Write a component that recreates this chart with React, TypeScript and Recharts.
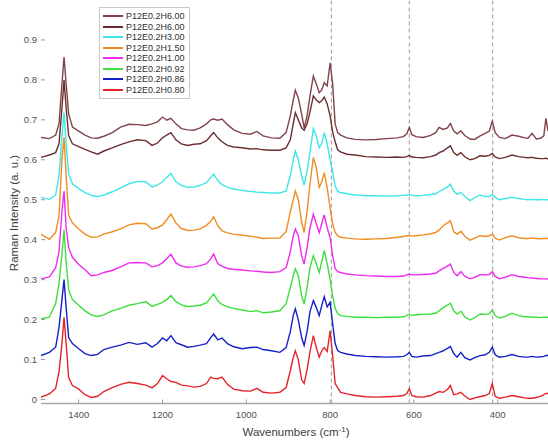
import { LineChart, Line, XAxis, YAxis, ReferenceLine } from "recharts";

// wavenumber grid (cm-1), shared by all spectra
const wavenumbers = [
    1490, 1470, 1455, 1447, 1440, 1435, 1430, 1424, 1415, 1400,
    1385, 1370, 1355, 1340, 1320, 1300, 1280, 1260, 1240, 1225,
    1212, 1200, 1190, 1180, 1168, 1155, 1140, 1125, 1110, 1095,
    1085, 1078, 1068, 1058, 1045, 1030, 1010, 990, 975, 960,
    940, 920, 905, 895, 888, 883, 876, 868, 862, 855,
    848, 840, 833, 826, 820, 814, 807, 800, 794, 788,
    782, 775, 760, 740, 715, 690, 665, 640, 625, 617,
    611, 605, 595, 578, 560, 548, 540, 530, 520, 513,
    505, 497, 488, 478, 466, 455, 442, 430, 420, 413,
    406, 396, 382, 366, 350, 336, 328, 318, 308, 298,
    290, 285, 280,
];

const h600a = [
    0.656, 0.653, 0.662, 0.69, 0.79, 0.857, 0.79, 0.715, 0.682, 0.672,
    0.662, 0.655, 0.654, 0.659, 0.668, 0.682, 0.689, 0.688, 0.686, 0.69,
    0.695, 0.707, 0.699, 0.704, 0.69, 0.678, 0.675, 0.674, 0.68, 0.69,
    0.7, 0.702, 0.699, 0.702, 0.688, 0.675, 0.666, 0.664, 0.671, 0.66,
    0.655, 0.654, 0.668, 0.71, 0.75, 0.774, 0.755, 0.715, 0.68, 0.71,
    0.76, 0.81, 0.79, 0.768, 0.775, 0.793, 0.785, 0.843, 0.79, 0.69,
    0.668, 0.662, 0.655, 0.651, 0.65, 0.651, 0.653, 0.655, 0.658, 0.665,
    0.681, 0.663, 0.658, 0.656, 0.661, 0.668, 0.681, 0.676, 0.68, 0.691,
    0.672, 0.665, 0.672, 0.66, 0.652, 0.651, 0.66, 0.666, 0.672, 0.697,
    0.668, 0.656, 0.653, 0.662, 0.659, 0.655, 0.654, 0.666, 0.652, 0.654,
    0.66, 0.704, 0.672,
];

const h600b = [
    0.606, 0.612, 0.618, 0.64, 0.73, 0.8, 0.73, 0.66, 0.64, 0.633,
    0.626, 0.62, 0.614, 0.622, 0.63, 0.638, 0.645, 0.65, 0.648, 0.636,
    0.642, 0.655, 0.662, 0.668, 0.65, 0.64, 0.636, 0.639, 0.64, 0.648,
    0.66, 0.668, 0.655, 0.645, 0.636, 0.632, 0.63, 0.627, 0.628, 0.625,
    0.624, 0.624, 0.63, 0.65, 0.69, 0.718, 0.7, 0.68, 0.674, 0.69,
    0.72, 0.76, 0.75, 0.743, 0.748, 0.757, 0.74, 0.71, 0.67, 0.645,
    0.625, 0.62, 0.614, 0.612, 0.608, 0.607, 0.606, 0.607, 0.606, 0.608,
    0.611, 0.607, 0.606, 0.605, 0.608, 0.612, 0.618, 0.622, 0.63, 0.635,
    0.618, 0.611, 0.618, 0.607, 0.6, 0.603, 0.61, 0.609, 0.611, 0.616,
    0.607, 0.603, 0.606, 0.612, 0.608, 0.606, 0.605, 0.606, 0.604, 0.603,
    0.603, 0.604, 0.602,
];

const h300 = [
    0.506, 0.501, 0.512, 0.56, 0.66, 0.718, 0.64, 0.565, 0.54, 0.528,
    0.518, 0.511, 0.508, 0.512, 0.52, 0.53, 0.54, 0.546, 0.545, 0.532,
    0.537, 0.545, 0.556, 0.566, 0.545, 0.536, 0.531, 0.532, 0.536, 0.543,
    0.556, 0.564, 0.548, 0.538, 0.531, 0.527, 0.523, 0.521, 0.519, 0.518,
    0.517, 0.517, 0.522, 0.56, 0.6, 0.622, 0.6, 0.56, 0.537, 0.57,
    0.62, 0.678, 0.66, 0.63, 0.64, 0.668, 0.64, 0.6, 0.57, 0.535,
    0.521, 0.518, 0.515, 0.512, 0.51, 0.51, 0.509, 0.51, 0.511, 0.512,
    0.513, 0.511, 0.51, 0.511, 0.513, 0.515, 0.52, 0.526, 0.532, 0.539,
    0.522, 0.514, 0.518, 0.508, 0.498, 0.505, 0.512, 0.508, 0.508, 0.514,
    0.506, 0.5, 0.503, 0.506, 0.503, 0.501, 0.5, 0.501, 0.5, 0.5,
    0.501, 0.5, 0.5,
];

const h150 = [
    0.414, 0.401, 0.418, 0.46, 0.6, 0.656, 0.56, 0.462, 0.442, 0.427,
    0.414, 0.406, 0.407, 0.414, 0.42, 0.427, 0.437, 0.441, 0.44, 0.427,
    0.43, 0.437, 0.45, 0.464, 0.442, 0.428, 0.423, 0.424, 0.427, 0.436,
    0.446, 0.457, 0.435, 0.422, 0.417, 0.414, 0.411, 0.409, 0.406, 0.403,
    0.404, 0.404, 0.42, 0.47, 0.5, 0.522, 0.5, 0.445, 0.418, 0.47,
    0.54, 0.606, 0.58, 0.531, 0.545, 0.568, 0.53, 0.48, 0.44, 0.418,
    0.41, 0.406, 0.404, 0.402, 0.401, 0.402, 0.403, 0.406, 0.408, 0.41,
    0.41, 0.409, 0.41, 0.412, 0.415, 0.418, 0.424, 0.435, 0.442, 0.4475,
    0.42, 0.414, 0.421, 0.408, 0.399, 0.404, 0.41, 0.408, 0.41, 0.414,
    0.404, 0.399, 0.405, 0.41, 0.405, 0.403, 0.403, 0.404, 0.403, 0.402,
    0.403, 0.403, 0.403,
];

const h100 = [
    0.302, 0.307, 0.33, 0.37, 0.47, 0.522, 0.43, 0.38, 0.356, 0.338,
    0.325, 0.31, 0.312, 0.318, 0.323, 0.332, 0.342, 0.343, 0.342, 0.332,
    0.335, 0.342, 0.352, 0.364, 0.342, 0.334, 0.331, 0.332, 0.335, 0.34,
    0.352, 0.364, 0.34, 0.334, 0.328, 0.326, 0.324, 0.322, 0.321, 0.319,
    0.318, 0.32, 0.33, 0.37, 0.41, 0.427, 0.41, 0.36, 0.339, 0.38,
    0.43, 0.464, 0.44, 0.418, 0.44, 0.462, 0.43, 0.405, 0.36, 0.328,
    0.32, 0.318, 0.314, 0.312, 0.31, 0.309, 0.308, 0.308, 0.309, 0.312,
    0.314, 0.312, 0.312, 0.313, 0.314, 0.316, 0.322, 0.328, 0.334, 0.339,
    0.318, 0.31, 0.32, 0.308, 0.302, 0.306, 0.3125, 0.312, 0.313, 0.32,
    0.308, 0.302, 0.306, 0.3125, 0.308, 0.306, 0.305, 0.304, 0.303, 0.302,
    0.302, 0.302, 0.3017,
];

const h092 = [
    0.202, 0.206, 0.24, 0.29, 0.365, 0.425, 0.345, 0.275, 0.25, 0.236,
    0.222, 0.212, 0.208, 0.212, 0.222, 0.228, 0.236, 0.24, 0.245, 0.233,
    0.238, 0.243, 0.25, 0.26, 0.245, 0.237, 0.233, 0.234, 0.236, 0.242,
    0.255, 0.264, 0.247, 0.238, 0.232, 0.228, 0.224, 0.22, 0.2225, 0.217,
    0.219, 0.222, 0.24, 0.28, 0.31, 0.327, 0.31, 0.26, 0.239, 0.28,
    0.33, 0.36, 0.34, 0.318, 0.345, 0.3725, 0.34, 0.3, 0.26, 0.228,
    0.215, 0.21, 0.208, 0.206, 0.206, 0.205, 0.206, 0.206, 0.207, 0.21,
    0.214, 0.21, 0.212, 0.213, 0.214, 0.216, 0.222, 0.23, 0.236, 0.241,
    0.222, 0.214, 0.221, 0.206, 0.199, 0.205, 0.214, 0.213, 0.215, 0.224,
    0.21, 0.204, 0.208, 0.216, 0.21, 0.207, 0.207, 0.206, 0.206, 0.205,
    0.206, 0.206, 0.206,
];

const h086 = [
    0.11, 0.118, 0.131, 0.18, 0.25, 0.3, 0.23, 0.155, 0.14, 0.127,
    0.115, 0.11, 0.113, 0.125, 0.131, 0.136, 0.143, 0.138, 0.142, 0.131,
    0.14, 0.154, 0.147, 0.16, 0.142, 0.137, 0.131, 0.133, 0.136, 0.14,
    0.155, 0.164, 0.149, 0.154, 0.14, 0.132, 0.127, 0.13, 0.131, 0.125,
    0.122, 0.118, 0.13, 0.17, 0.21, 0.227, 0.2, 0.155, 0.135, 0.17,
    0.22, 0.2475, 0.23, 0.21, 0.235, 0.2575, 0.232, 0.2433, 0.19, 0.14,
    0.1225, 0.118, 0.114, 0.11, 0.108, 0.107, 0.106, 0.107, 0.108, 0.112,
    0.118, 0.108, 0.106, 0.109, 0.11, 0.115, 0.118, 0.122, 0.128, 0.1325,
    0.115, 0.106, 0.118, 0.104, 0.099, 0.105, 0.11, 0.112, 0.118, 0.131,
    0.112, 0.106, 0.108, 0.1125, 0.108, 0.106, 0.106, 0.108, 0.106, 0.107,
    0.108, 0.11, 0.11,
];

const h080 = [
    0.006, 0.014, 0.028, 0.07, 0.14, 0.206, 0.14, 0.055, 0.035, 0.026,
    0.012, 0.005, 0.008, 0.02, 0.03, 0.038, 0.043, 0.04, 0.036, 0.029,
    0.04, 0.06, 0.052, 0.045, 0.043, 0.036, 0.034, 0.031, 0.033, 0.04,
    0.056, 0.053, 0.052, 0.056, 0.038, 0.026, 0.022, 0.021, 0.028, 0.018,
    0.016, 0.018, 0.03, 0.072, 0.105, 0.122, 0.1, 0.05, 0.04, 0.075,
    0.12, 0.16, 0.13, 0.106, 0.122, 0.13, 0.12, 0.172, 0.11, 0.04,
    0.03, 0.018, 0.014, 0.01, 0.007, 0.006, 0.007, 0.008, 0.01, 0.015,
    0.027, 0.01, 0.007, 0.006, 0.01, 0.016, 0.02, 0.018, 0.025, 0.035,
    0.012, 0.014, 0.018, 0.008, 0.0, 0.004, 0.007, 0.01, 0.015, 0.04,
    0.008, 0.003, 0.006, 0.01, 0.007, 0.004, 0.003, 0.003, 0.005, 0.008,
    0.012, 0.015, 0.015,
];

const seriesNames = [
    "P12E0.2H6.00", "P12E0.2H6.00", "P12E0.2H3.00", "P12E0.2H1.50",
    "P12E0.2H1.00", "P12E0.2H0.92", "P12E0.2H0.86", "P12E0.2H0.80",
];
const seriesColors = [
    "#84434a", "#6b2e30", "#3ee6e6", "#ef8c22",
    "#ee2bee", "#3ede3e", "#1422c8", "#e2242a",
];
const seriesValues = [h600a, h600b, h300, h150, h100, h092, h086, h080];

const xTicks = [400, 600, 800, 1000, 1200, 1400];
const yTicks = [0, 0.1, 0.2, 0.3, 0.4, 0.5, 0.6, 0.7, 0.8, 0.9];
const markerLines = [797, 611, 412];

const data = wavenumbers.map((wn, i) => {
    const row: Record<string, number> = { wn };
    seriesValues.forEach((vals, k) => {
        row[`s${k}`] = vals[i];
    });
    return row;
});

const FONT = "'Liberation Sans', Arial, sans-serif";

const XTick = (props: any) => {
    const { x, y, payload } = props;
    return (
        <g>
            <line x1={x} x2={x} y1={y} y2={y - 4} stroke="#999" strokeWidth={1} />
            <text x={x} y={y + 14} textAnchor="middle" fontSize={9.5} fill="#505050" fontFamily={FONT}>
                {payload.value}
            </text>
        </g>
    );
};

const YTick = (props: any) => {
    const { x, y, payload } = props;
    return (
        <g>
            <line x1={x} x2={x + 4} y1={y} y2={y} stroke="#999" strokeWidth={1} />
            <text x={x - 4} y={y + 3.5} textAnchor="end" fontSize={9.5} fill="#505050" fontFamily={FONT}>
                {payload.value}
            </text>
        </g>
    );
};

const XTitle = () => (
    <text x={296} y={436} textAnchor="middle" fontSize={11.5} fill="#404040" fontFamily={FONT}>
        Wavenumbers (cm
        <tspan dy={-4} fontSize={8}>-1</tspan>
        <tspan dy={4}>)</tspan>
    </text>
);

const YTitle = () => (
    <text
        x={18}
        y={213}
        transform="rotate(-90 18 213)"
        textAnchor="middle"
        fontSize={11.5}
        fill="#404040"
        fontFamily={FONT}
    >
        Raman Intensity (a. u.)
    </text>
);

const LegendBox = () => (
    <div
        style={{
            position: "absolute",
            left: 99,
            top: 7,
            border: "1px solid #c8c8c8",
            background: "#fff",
            padding: "3px 4px 3px 3px",
            fontFamily: FONT,
            fontSize: 9,
            lineHeight: "10.5px",
            color: "#303030",
        }}
    >
        {seriesNames.map((name, k) => (
            <div key={k} style={{ display: "flex", alignItems: "center", height: 10.5 }}>
                <span
                    style={{
                        display: "inline-block",
                        width: 20,
                        height: 0,
                        borderTop: `2px solid ${seriesColors[k]}`,
                        marginRight: 3,
                    }}
                />
                <span>{name}</span>
            </div>
        ))}
    </div>
);

export default function App() {
    return (
        <div style={{ position: "absolute", left: 0, top: 0, width: 548, height: 440, background: "#fff" }}>
            <LineChart width={548} height={440} data={data} margin={{ top: 0, right: 0, left: 0, bottom: 0 }}>
                <XAxis
                    dataKey="wn"
                    type="number"
                    domain={[280, 1490]}
                    reversed
                    allowDataOverflow
                    ticks={xTicks}
                    tick={<XTick />}
                    tickSize={0}
                    tickMargin={0}
                    tickLine={false}
                    axisLine={{ stroke: "#a8a8a8", strokeWidth: 1.5 }}
                    height={36.5}
                    label={<XTitle />}
                />
                <YAxis
                    type="number"
                    domain={[-0.01, 1.0]}
                    allowDataOverflow
                    ticks={yTicks}
                    tick={<YTick />}
                    tickSize={0}
                    tickMargin={0}
                    tickLine={false}
                    axisLine={false}
                    width={41}
                    label={<YTitle />}
                />
                {markerLines.map((v) => (
                    <ReferenceLine key={v} x={v} stroke="#9a9a9a" strokeDasharray="4 3" strokeWidth={1} />
                ))}
                {seriesValues.map((_, k) => (
                    <Line
                        key={k}
                        type="linear"
                        dataKey={`s${k}`}
                        name={seriesNames[k]}
                        stroke={seriesColors[k]}
                        strokeWidth={1.4}
                        dot={false}
                        isAnimationActive={false}
                    />
                ))}
            </LineChart>
            <LegendBox />
        </div>
    );
}
